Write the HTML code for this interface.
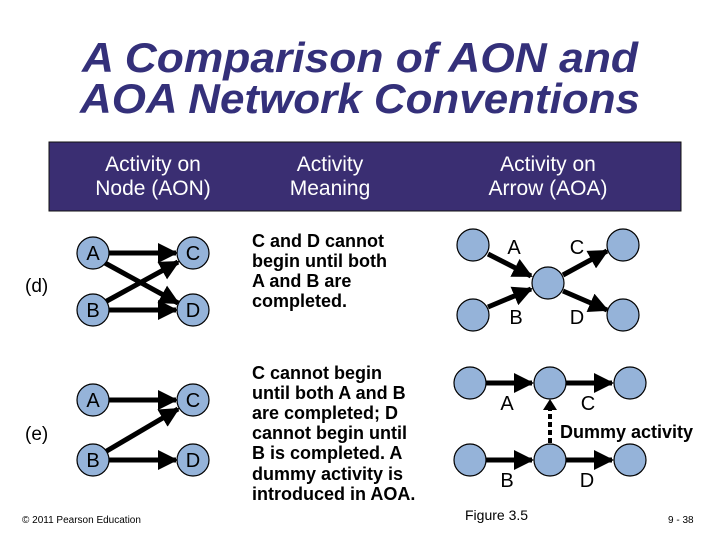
<!DOCTYPE html>
<html><head><meta charset="utf-8"><style>
html,body{margin:0;padding:0;background:#fff}
svg{display:block;font-family:"Liberation Sans",Arial,sans-serif}
</style></head><body>
<svg width="720" height="540" viewBox="0 0 720 540" xmlns="http://www.w3.org/2000/svg">
<defs>
<marker id="ah" markerWidth="4" markerHeight="4" refX="3.6" refY="2" orient="auto" markerUnits="strokeWidth">
<path d="M0,0 L4,2 L0,4 z" fill="#000"/></marker>
</defs>
<g fill="#34307a" font-weight="bold" font-style="italic" font-size="42">
<text x="82" y="72" textLength="556" lengthAdjust="spacingAndGlyphs">A Comparison of AON and</text>
<text x="80" y="113" textLength="560" lengthAdjust="spacingAndGlyphs">AOA Network Conventions</text>
</g>
<rect x="49" y="142" width="632" height="69" fill="#3a2e72" stroke="#111" stroke-width="1"/>
<g fill="#fff" font-size="21" text-anchor="middle">
<text x="153" y="171">Activity on</text><text x="153" y="195">Node (AON)</text>
<text x="330" y="171">Activity</text><text x="330" y="195">Meaning</text>
<text x="548" y="171">Activity on</text><text x="548" y="195">Arrow (AOA)</text>
</g>
<g font-size="19" fill="#000">
<text x="25" y="292">(d)</text>
<text x="25" y="440">(e)</text>
</g>
<!-- AON arrows -->
<g stroke="#000" stroke-width="5" fill="none" marker-end="url(#ah)">
<line x1="109" y1="253" x2="176" y2="253"/>
<line x1="105" y1="263" x2="178" y2="303"/>
<line x1="105" y1="302" x2="178" y2="262"/>
<line x1="109" y1="310" x2="176" y2="310"/>
<line x1="109" y1="400" x2="176" y2="400"/>
<line x1="105" y1="452" x2="178" y2="409"/>
<line x1="109" y1="460" x2="176" y2="460"/>
</g>
<g fill="#95b3d9" stroke="#000" stroke-width="1.2">
<circle cx="93" cy="253" r="16"/><circle cx="193" cy="253" r="16"/>
<circle cx="93" cy="310" r="16"/><circle cx="193" cy="310" r="16"/>
<circle cx="93" cy="400" r="16"/><circle cx="193" cy="400" r="16"/>
<circle cx="93" cy="460" r="16"/><circle cx="193" cy="460" r="16"/>
</g>
<g font-size="20" text-anchor="middle" fill="#000">
<text x="93" y="260">A</text><text x="193" y="260">C</text>
<text x="93" y="317">B</text><text x="193" y="317">D</text>
<text x="93" y="407">A</text><text x="193" y="407">C</text>
<text x="93" y="467">B</text><text x="193" y="467">D</text>
</g>
<g font-size="18" font-weight="bold" fill="#000">
<text x="252" y="247">C and D cannot</text>
<text x="252" y="267">begin until both</text>
<text x="252" y="287">A and B are</text>
<text x="252" y="307">completed.</text>
<text x="252" y="379">C cannot begin</text>
<text x="252" y="399">until both A and B</text>
<text x="252" y="419">are completed; D</text>
<text x="252" y="439">cannot begin until</text>
<text x="252" y="459">B is completed. A</text>
<text x="252" y="480">dummy activity is</text>
<text x="252" y="500">introduced in AOA.</text>
</g>
<!-- AOA arrows -->
<g stroke="#000" stroke-width="5" fill="none" marker-end="url(#ah)">
<line x1="488" y1="254" x2="531" y2="276"/>
<line x1="488" y1="307" x2="531" y2="289"/>
<line x1="563" y1="275" x2="607" y2="251"/>
<line x1="563" y1="291" x2="607" y2="310"/>
<line x1="486" y1="383" x2="532" y2="383"/>
<line x1="566" y1="383" x2="612" y2="383"/>
<line x1="486" y1="460" x2="532" y2="460"/>
<line x1="566" y1="460" x2="612" y2="460"/>
</g>
<line x1="550" y1="443" x2="550" y2="410" stroke="#000" stroke-width="4" stroke-dasharray="5,3"/>
<path d="M543,410 L557,410 L550,399 z" fill="#000"/>
<g fill="#95b3d9" stroke="#000" stroke-width="1.2">
<circle cx="473" cy="245" r="16"/><circle cx="548" cy="283" r="16"/>
<circle cx="623" cy="245" r="16"/><circle cx="473" cy="315" r="16"/>
<circle cx="623" cy="315" r="16"/>
<circle cx="470" cy="383" r="16"/><circle cx="550" cy="383" r="16"/><circle cx="630" cy="383" r="16"/>
<circle cx="470" cy="460" r="16"/><circle cx="550" cy="460" r="16"/><circle cx="630" cy="460" r="16"/>
</g>
<g font-size="20" text-anchor="middle" fill="#000">
<text x="514" y="254">A</text><text x="577" y="254">C</text>
<text x="516" y="324">B</text><text x="577" y="324">D</text>
<text x="507" y="410">A</text><text x="588" y="410">C</text>
<text x="507" y="487">B</text><text x="587" y="487">D</text>
</g>
<text x="560" y="438" font-size="18" font-weight="bold" fill="#000">Dummy activity</text>
<text x="465" y="520" font-size="14" fill="#000">Figure 3.5</text>
<text x="22" y="523" font-size="10" fill="#000">© 2011 Pearson Education</text>
<text x="668" y="523" font-size="10" fill="#000">9 - 38</text>
</svg>
</body></html>
